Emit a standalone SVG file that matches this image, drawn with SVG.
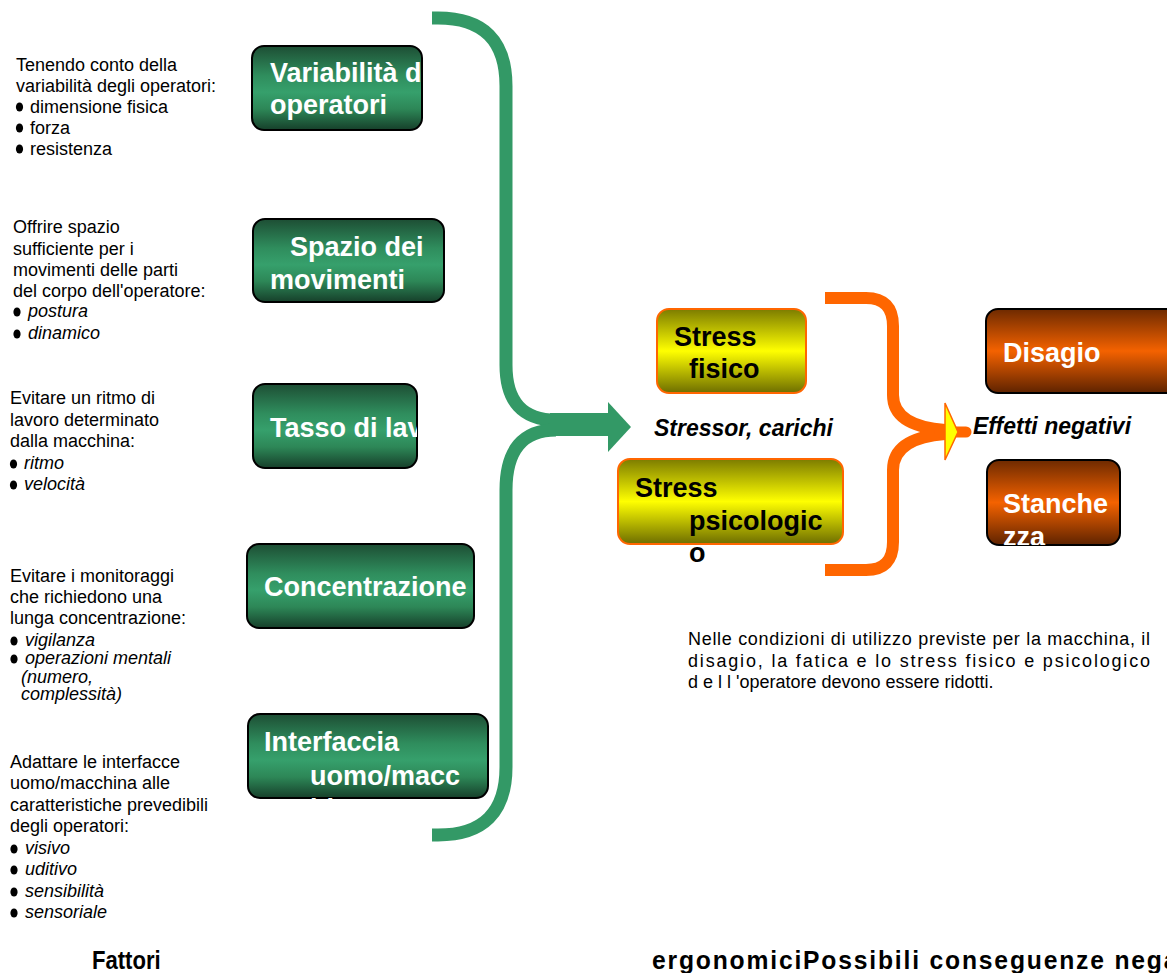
<svg xmlns="http://www.w3.org/2000/svg" xmlns:xlink="http://www.w3.org/1999/xlink" width="1167" height="973" viewBox="0 0 1167 973">
  <style>
    .note { font-family: "Liberation Sans", Arial, sans-serif; font-size: 18px; fill: #000; }
    .note .it { font-style: italic; }
    .para { font-family: "Liberation Sans", Arial, sans-serif; font-size: 18px; fill: #000; }
    .lbl-w { font-family: "Liberation Sans", Arial, sans-serif; font-size: 27px; font-weight: bold; fill: #fff; }
    .lbl-k { font-family: "Liberation Sans", Arial, sans-serif; font-size: 27px; font-weight: bold; fill: #000; }
    .cap { font-family: "Liberation Sans", Arial, sans-serif; font-size: 23px; font-weight: bold; font-style: italic; fill: #000; }
    .title { font-family: "Liberation Sans", Arial, sans-serif; font-size: 26px; font-weight: bold; fill: #000; }
    .box-g { fill: url(#gGreen); stroke: #000; stroke-width: 2; }
    .box-y { fill: url(#gYellow); stroke: #ff6600; stroke-width: 2; }
    .box-o { fill: url(#gOrange); stroke: #000; stroke-width: 2; }
    .brace-g { fill: none; stroke: #339966; stroke-width: 13; }
    .brace-o { fill: none; stroke: #ff6600; stroke-width: 12; stroke-linecap: butt; }
  </style>
  <defs>
    <linearGradient id="gGreen" x1="0" y1="0" x2="0" y2="1">
      <stop offset="0" stop-color="#1d4e34"/>
      <stop offset="0.35" stop-color="#2f8d5d"/>
      <stop offset="0.55" stop-color="#36a06c"/>
      <stop offset="0.75" stop-color="#2d8757"/>
      <stop offset="1" stop-color="#163f2a"/>
    </linearGradient>
    <linearGradient id="gYellow" x1="0" y1="0" x2="0" y2="1">
      <stop offset="0" stop-color="#7c7c00"/>
      <stop offset="0.5" stop-color="#ffff00"/>
      <stop offset="1" stop-color="#6e6e00"/>
    </linearGradient>
    <linearGradient id="gOrange" x1="0" y1="0" x2="0" y2="1">
      <stop offset="0" stop-color="#6e2a00"/>
      <stop offset="0.5" stop-color="#f46200"/>
      <stop offset="1" stop-color="#5e2300"/>
    </linearGradient>
    <ellipse id="dot" cx="0" cy="0" rx="3.6" ry="4.6" fill="#000"/>
    <clipPath id="clipVar"><rect x="252" y="40" width="170" height="100"/></clipPath>
    <clipPath id="clipTasso"><rect x="253" y="380" width="164" height="95"/></clipPath>
    <clipPath id="clipConc"><rect x="247" y="540" width="227" height="95"/></clipPath>
    <clipPath id="clipInt"><rect x="248" y="710" width="260" height="100"/></clipPath>
    <clipPath id="clipStan"><rect x="987" y="455" width="140" height="90"/></clipPath>
  </defs>

  <!-- brackets and arrows -->
  <g id="connectors">
    <path class="brace-g" d="M432,18 L438,18 Q506,18 506,86 L506,365 Q506,420 556,420"/>
    <path class="brace-g" d="M556,430 Q506,430 506,490 L506,767 Q506,835 438,835 L432,835"/>
    <rect x="550" y="413" width="60" height="23" fill="#339966"/>
    <polygon points="608,402 631,427 608,452" fill="#339966"/>

    <path class="brace-o" d="M825,298 L866,298 Q893,298 893,326 L893,395 Q893,426 945,430"/>
    <path class="brace-o" d="M945,434 Q893,438 893,470 L893,542 Q893,570 866,570 L825,570"/>
    <path d="M940,432 L966,432" stroke="#ff6600" stroke-width="11" stroke-linecap="round"/>
    <polygon points="945,403 958,432 945,460" fill="#ffff00" stroke="#ff6600" stroke-width="1.5"/>
  </g>

  <!-- ergonomic factors -->
  <g id="node-variabilita">
    <rect class="box-g" x="252" y="46" width="170" height="84" rx="12"/>
    <g clip-path="url(#clipVar)">
      <text class="lbl-w" x="270" y="82">Variabilità degli</text>
      <text class="lbl-w" x="270" y="114">operatori</text>
    </g>
  </g>
  <g id="node-spazio">
    <rect class="box-g" x="253" y="219" width="191" height="83" rx="12"/>
    <text class="lbl-w" x="290" y="256">Spazio dei</text>
    <text class="lbl-w" x="270" y="289">movimenti</text>
  </g>
  <g id="node-tasso">
    <rect class="box-g" x="253" y="384" width="164" height="84" rx="12"/>
    <g clip-path="url(#clipTasso)">
      <text class="lbl-w" x="270" y="437">Tasso di lavoro</text>
    </g>
  </g>
  <g id="node-concentrazione">
    <rect class="box-g" x="247" y="544" width="227" height="84" rx="12"/>
    <g clip-path="url(#clipConc)">
      <text class="lbl-w" x="264" y="596" font-size="27.5">Concentrazione</text>
    </g>
  </g>
  <g id="node-interfaccia">
    <rect class="box-g" x="248" y="714" width="240" height="84" rx="12"/>
    <g clip-path="url(#clipInt)">
      <text class="lbl-w" x="264" y="751">Interfaccia</text>
      <text class="lbl-w" x="310" y="785">uomo/macc</text>
      <text class="lbl-w" x="310" y="818">hina</text>
    </g>
  </g>

  <!-- stressors -->
  <g id="node-stress-fisico">
    <rect class="box-y" x="657" y="309" width="149" height="84" rx="12"/>
    <text class="lbl-k" x="674" y="346">Stress</text>
    <text class="lbl-k" x="689" y="378">fisico</text>
  </g>
  <g id="node-stress-psicologico">
    <rect class="box-y" x="618" y="459" width="225" height="85" rx="12"/>
    <text class="lbl-k" x="635" y="497">Stress</text>
    <text class="lbl-k" x="689" y="530">psicologic</text>
    <text class="lbl-k" x="689" y="562">o</text>
  </g>
  <text id="label-stressor" class="cap" x="654" y="436">Stressor, carichi</text>

  <!-- negative effects -->
  <g id="node-disagio">
    <rect class="box-o" x="986" y="309" width="200" height="84" rx="12"/>
    <text class="lbl-w" x="1003" y="362">Disagio</text>
  </g>
  <g id="node-stanchezza">
    <rect class="box-o" x="987" y="460" width="133" height="85" rx="12"/>
    <g clip-path="url(#clipStan)">
      <text class="lbl-w" x="1003" y="513">Stanche</text>
      <text class="lbl-w" x="1003" y="546">zza</text>
    </g>
  </g>
  <text id="label-effetti" class="cap" x="973" y="434">Effetti negativi</text>

  <!-- descriptions -->
  <g id="desc-variabilita" class="note">
    <text x="16" y="71">Tenendo conto della</text>
    <text x="16" y="92">variabilità degli operatori:</text>
    <use href="#dot" x="19.5" y="107"/><text x="30" y="113">dimensione fisica</text>
    <use href="#dot" x="19.5" y="128"/><text x="30" y="134">forza</text>
    <use href="#dot" x="19.5" y="149"/><text x="30" y="155">resistenza</text>
  </g>
  <g id="desc-spazio" class="note">
    <text x="13" y="233">Offrire spazio</text>
    <text x="13" y="255">sufficiente per i</text>
    <text x="13" y="276">movimenti delle parti</text>
    <text x="13" y="297">del corpo dell'operatore:</text>
    <use href="#dot" x="17" y="312"/><text class="it" x="28" y="317">postura</text>
    <use href="#dot" x="17" y="334"/><text class="it" x="28" y="339">dinamico</text>
  </g>
  <g id="desc-tasso" class="note">
    <text x="10" y="404">Evitare un ritmo di</text>
    <text x="10" y="426">lavoro determinato</text>
    <text x="10" y="447">dalla macchina:</text>
    <use href="#dot" x="13.5" y="464"/><text class="it" x="24" y="469">ritmo</text>
    <use href="#dot" x="13.5" y="485"/><text class="it" x="24" y="490">velocità</text>
  </g>
  <g id="desc-concentrazione" class="note">
    <text x="10" y="582">Evitare i monitoraggi</text>
    <text x="10" y="603">che richiedono una</text>
    <text x="10" y="624">lunga concentrazione:</text>
    <use href="#dot" x="14" y="641"/><text class="it" x="25" y="646">vigilanza</text>
    <use href="#dot" x="14" y="659"/><text class="it" x="25" y="664">operazioni mentali</text>
    <text class="it" x="21" y="683">(numero,</text>
    <text class="it" x="21" y="700">complessità)</text>
  </g>
  <g id="desc-interfaccia" class="note">
    <text x="10" y="768">Adattare le interfacce</text>
    <text x="10" y="789">uomo/macchina alle</text>
    <text x="10" y="811">caratteristiche prevedibili</text>
    <text x="10" y="832">degli operatori:</text>
    <use href="#dot" x="14" y="849"/><text class="it" x="25" y="854">visivo</text>
    <use href="#dot" x="14" y="870"/><text class="it" x="25" y="875">uditivo</text>
    <use href="#dot" x="14" y="892"/><text class="it" x="25" y="897">sensibilità</text>
    <use href="#dot" x="14" y="913"/><text class="it" x="25" y="918">sensoriale</text>
  </g>

  <!-- requirement note -->
  <g id="desc-requisito" class="para">
    <text x="688" y="645" textLength="462" lengthAdjust="spacing">Nelle condizioni di utilizzo previste per la macchina, il</text>
    <text x="688" y="667" textLength="462" lengthAdjust="spacing">disagio, la fatica e lo stress fisico e psicologico</text>
    <text x="688" y="688">d e l l 'operatore devono essere ridotti.</text>
  </g>

  <!-- footer titles -->
  <g id="titles" class="title">
    <text transform="translate(92,969) scale(0.85,1)">Fattori</text>
    <text transform="translate(652,969) scale(0.95,1)" letter-spacing="1.9">ergonomiciPossibili conseguenze negative</text>
  </g>
</svg>
